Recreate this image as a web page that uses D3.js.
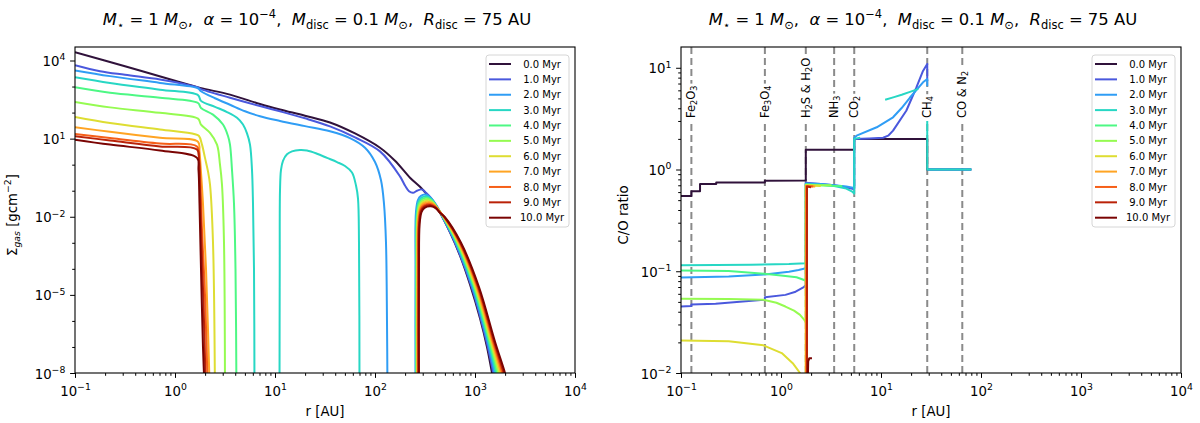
<!DOCTYPE html>
<html>
<head>
<meta charset="utf-8">
<script src="https://cdn.jsdelivr.net/npm/d3@7"></script>
<style>
  body { margin: 0; background: #fff; }
  svg { display: block; font-family: "DejaVu Sans", sans-serif; }
  text { white-space: pre; }
</style>
</head>
<body>
<svg id="chart"></svg>
<script>
// ---------- data ----------
const times = ["0.0", "1.0", "2.0", "3.0", "4.0", "5.0", "6.0", "7.0", "8.0", "9.0", "10.0"];

// surface density [r (AU), sigma (g/cm^2)]; null = no gas (gap)
const sigma_00 = [[0.1,2.1e4],[0.316,6.0e3],[1,1.66e3],[1.778,891],[3.548,490],[7.079,214],[11.22,132],[19.95,75.9],[35.48,41.7],[63.1,15.8],[112.2,4.47],[158.5,1.41],[223.9,0.316],[281.8,0.141],[331.1,0.0708],[380.2,0.0355],[446.7,0.0141],[562.3,2.5e-3],[707.9,3.2e-4],[891.3,2.5e-5],[1122,1.26e-6],[1318,1e-7],[1479,1e-8],[1585,2.5e-9]];
const sigma_01 = [[0.1,6607],[0.178,3890],[0.316,2818],[0.708,1862],[1.259,1230],[1.698,920],[1.82,800],[3.548,372],[7.079,178],[11.22,112],[19.95,60.3],[35.48,29.5],[63.1,11.2],[112.2,3.24],[177.8,0.355],[199.5,0.158],[218.8,0.0955],[239.9,0.0832],[263,0.1],[295.1,0.112],[323.6,0.083],[363.1,0.0525],[416.9,0.0251],[470.6,0.01],[631,1e-3],[924.7,2e-5],[1306,1.58e-7],[1524,1e-8],[1637,2.5e-9]];
const sigma_02 = [[0.1,4169],[0.224,2512],[0.708,1380],[1.698,860],[1.82,661],[2.512,355],[3.548,200],[5.012,112],[7.079,72.4],[11.22,47.9],[19.95,30.2],[35.48,19.1],[56.23,10.5],[79.43,4.47],[100,1.26],[114.8,0.251],[123,0.0316],[128.8,1e-3],[131.8,1e-6],[133.4,1e-9], null,
  [254.1,1e-9],[254.1,1e-4],[257,0.0158],[269.2,0.0447],[288.4,0.0631],[316.2,0.0708],[354.8,0.0562],[398.1,0.0316],[473.2,0.01],[641.2,1e-3],[941.9,2e-5],[1337,1.58e-7],[1570,1e-8],[1690,2.5e-9]];
const sigma_03 = [[0.1,2291],[0.224,1380],[0.708,759],[1.698,468],[1.82,282],[2.512,166],[3.311,105],[4.169,63.1],[4.786,34.7],[5.248,15.8],[5.623,5.89],[5.888,0.631],[6.026,0.0316],[6.166,1e-4],[6.237,1e-9], null,
  [11.09,1e-9],[11.15,1e-4],[11.22,0.1],[11.48,0.631],[12.02,1.41],[13.18,2.51],[14.79,3.24],[17.78,3.63],[20.89,3.47],[26.3,2.63],[33.11,1.82],[41.69,1.26],[50.12,0.891],[58.88,0.501],[64.57,0.158],[67.61,0.05],[69.18,1e-3],[69.98,1e-9], null,
  [257,1e-9],[257,1e-4],[260.6,0.0123],[272.3,0.0372],[291.7,0.0537],[323.6,0.0617],[363.1,0.049],[407.4,0.0275],[476.4,0.01],[651.6,1e-3],[961.6,2e-5],[1365,1.58e-7],[1618,1e-8],[1746,2.5e-9]];
const sigma_04 = [[0.1,933],[0.224,575],[0.708,372],[1.698,234],[1.82,151],[2.399,83.2],[3.02,34.7],[3.388,12.6],[3.548,5.89],[3.715,0.631],[3.89,0.0316],[4.027,1e-4],[4.121,1e-9], null,
  [260,1e-9],[260,1e-4],[263.6,0.0107],[275.4,0.0324],[295.1,0.0468],[327.3,0.0537],[367.3,0.0427],[412.1,0.024],[478.6,0.01],[660.7,1e-3],[979.5,2e-5],[1393,1.58e-7],[1667,1e-8],[1803,2.5e-9]];
const sigma_05 = [[0.1,257],[0.224,158.5],[0.708,97.7],[1.698,58.9],[1.82,34.7],[2.239,16.6],[2.63,5.89],[2.818,1.0],[2.951,0.17],[3.09,1e-3],[3.162,1e-9], null,
  [261.8,1e-9],[261.8,1e-4],[265.5,9.3e-3],[277.3,0.0282],[297.2,0.0407],[335,0.0468],[375.8,0.0372],[421.7,0.0214],[482,0.01],[671.4,1e-3],[997.7,2e-5],[1426,1.58e-7],[1718,1e-8],[1862,2.5e-9]];
const sigma_06 = [[0.1,67.6],[0.224,39.8],[0.708,22.4],[1.585,14.8],[1.738,12.6],[1.862,5.89],[1.995,1.82],[2.138,0.55],[2.239,0.17],[2.399,1e-3],[2.512,1e-9], null,
  [264.2,1e-9],[264.2,1e-4],[267.9,8.1e-3],[279.9,0.0245],[299.9,0.0355],[338.8,0.0407],[380.2,0.0331],[426.6,0.0191],[484.2,0.01],[682.3,1e-3],[1016,2e-5],[1455,1.58e-7],[1770,1e-8],[1923,2.5e-9]];
const sigma_07 = [[0.1,27.5],[0.224,18.2],[0.708,10.7],[1.698,7.59],[1.758,3.16],[1.82,0.501],[1.905,0.0316],[2.042,1e-4],[2.239,1e-9], null,
  [266.7,1e-9],[266.7,1e-4],[270.4,7.2e-3],[282.5,0.0219],[302.7,0.0316],[346.7,0.0363],[389,0.0295],[436.5,0.0174],[487.5,0.01],[691.8,1e-3],[1035,2e-5],[1486,1.58e-7],[1824,1e-8],[1986,2.5e-9]];
const sigma_08 = [[0.1,15.1],[0.224,10.5],[0.708,6.46],[1.66,5.01],[1.738,2.0],[1.799,0.158],[1.862,3.16e-3],[1.995,1e-5],[2.138,1e-9], null,
  [269.2,1e-9],[269.2,1e-4],[272.9,6.3e-3],[285.1,0.0191],[305.5,0.0275],[350.8,0.0316],[393.6,0.0263],[441.6,0.0158],[489.8,0.01],[703.1,1e-3],[1057,2e-5],[1517,1.58e-7],[1879,1e-8],[2051,2.5e-9]];
const sigma_09 = [[0.1,12.3],[0.224,8.51],[0.708,5.01],[1.66,3.8],[1.738,1.58],[1.778,0.1],[1.841,1e-3],[1.95,1e-6],[2.042,1e-9], null,
  [272.3,1e-9],[272.3,1e-4],[276.1,5.6e-3],[288.4,0.017],[309,0.0245],[354.8,0.0282],[398.1,0.0234],[446.7,0.0145],[493.2,0.01],[712.9,1e-3],[1076,2e-5],[1552,1.58e-7],[1936,1e-8],[2118,2.5e-9]];
const sigma_10 = [[0.1,9.12],[0.224,5.89],[0.708,3.47],[1.66,1.82],[1.718,0.631],[1.758,0.0316],[1.82,1e-4],[1.905,1e-7],[1.995,1e-9], null,
  [275.4,1e-9],[275.4,1e-4],[279.3,5.0e-3],[291.7,0.0151],[312.6,0.0219],[363.1,0.0251],[407.4,0.0209],[451.9,0.0135],[495.5,0.01],[724.4,1e-3],[1096,2e-5],[1585,1.58e-7],[1995,1e-8],[2188,2.5e-9]];

// C/O ratio [r (AU), C/O]
const co_00 = [[0.1,0.55],[0.127,0.55],[0.127,0.61],[0.155,0.61],[0.155,0.72],[0.225,0.72],[0.225,0.745],[0.69,0.745],[0.69,0.775],[1.77,0.78],[1.77,1.56],[5.4,1.56],[5.4,2.0],[29,2.0],[29,1.0],[80,1.0]];
const co_01 = [[0.1,0.0451],[0.127,0.0455],[0.127,0.047],[0.222,0.0479],[0.69,0.0525],[0.69,0.0555],[1.107,0.0586],[1.4,0.063],[1.69,0.0697],[1.77,0.0735],[1.77,0.74],[2.5,0.72],[3.4,0.70],[4.5,0.67],[5.4,0.64],[5.4,2.0],[7.6,2.02],[10.5,2.05],[11.8,2.15],[13.2,2.41],[17.9,3.78],[22.6,6.4],[26.3,9.3],[29,10.9],[29,7.4], null, [29,1.0],[80,1.0]];
const co_02 = [[0.1,0.0867],[0.3,0.089],[0.69,0.093],[1.2,0.099],[1.5,0.103],[1.77,0.107],[1.77,0.73],[2.5,0.72],[3.4,0.70],[4.5,0.68],[5.4,0.66],[5.4,2.05],[5.7,2.15],[9.06,2.6],[13.2,3.26],[16,4.0],[19.5,5.1],[26.3,7.2],[29,7.75],[29,6.6], null, [29,1.0],[80,1.0]];
const co_03 = [[0.1,0.1145],[0.5,0.116],[1.2,0.118],[1.77,0.12],[1.77,0.72],[2.5,0.71],[3.4,0.69],[4.5,0.65],[5.1,0.61],[5.4,0.58],[5.4,2.0],[6.2,2.05], null, [11,4.85],[13.5,5.15],[16.1,5.43],[19.5,5.8],[23.6,6.2], null, [29,3.0],[29,1.0],[80,1.0]];
const co_04 = [[0.1,0.1015],[0.3,0.1005],[0.72,0.0942],[1.0,0.091],[1.43,0.0873],[1.65,0.083],[1.77,0.0804],[1.77,0.70],[2.5,0.70],[3.5,0.69],[4.1,0.69]];
const co_05 = [[0.1,0.0536],[0.3,0.0533],[0.667,0.0524],[0.9,0.049],[1.107,0.045],[1.35,0.041],[1.55,0.0373],[1.7,0.0335],[1.77,0.0314],[1.77,0.71],[2.4,0.70],[3.2,0.70]];
const co_06 = [[0.1,0.0209],[0.3,0.0205],[0.667,0.0187],[1.017,0.0157],[1.31,0.0125],[1.55,0.01],[1.68,0.0075],[1.75,0.005],[1.76,0.004],[1.77,0.70],[2.5,0.69]];
const co_07 = [[1.78,0.004],[1.78,0.69],[2.2,0.68]];
const co_08 = [[1.8,0.004],[1.8,0.69],[2.1,0.68]];
const co_09 = [[1.82,0.004],[1.82,0.68],[2.0,0.67]];
const co_10 = [[1.83,0.004],[1.87,0.013],[1.92,0.014],[2.04,0.014]];

const sigmaSeries = [sigma_00, sigma_01, sigma_02, sigma_03, sigma_04, sigma_05, sigma_06, sigma_07, sigma_08, sigma_09, sigma_10];
const coSeries = [co_00, co_01, co_02, co_03, co_04, co_05, co_06, co_07, co_08, co_09, co_10];

// ice lines
const iceR = [0.127, 0.69, 1.77, 3.4, 5.4, 29, 65];
const iceNames = ["Fe_2O_3", "Fe_3O_4", "H_2S & H_2O", "NH_3", "CO_2", "CH_4", "CO & N_2"];

// ticks
const rMajor = [0.1, 1, 10, 100, 1000, 10000];
const sigmaMajor = [1e-8, 1e-5, 1e-2, 1e1, 1e4];
const sigmaMinor = [1e-7, 1e-6, 1e-4, 1e-3, 1e-1, 1, 1e2, 1e3];
const coMajor = [0.01, 0.1, 1, 10];

// ---------- drawing ----------
const W = 1200, H = 423;
const svg = d3.select("#chart").attr("width", W).attr("height", H);
svg.append("rect").attr("width", W).attr("height", H).attr("fill", "#fff");

const colors = times.map((t, i) => i === 0 ? "#30123b" : i === 10 ? "#7a0403" : d3.interpolateTurbo(i / 10));
const FS = 13.3;

// write mathtext-like pieces into a <text>
function rich(text, parts, size) {
  let cur = 0;
  parts.forEach(p => {
    const off = p.s === "sub" ? size * 0.25 : p.s === "sup" ? -size * 0.42 : 0;
    const ts = text.append("tspan")
      .attr("dy", (off - cur).toFixed(2))
      .attr("font-size", p.s ? size * 0.7 : size)
      .text(p.t);
    if (p.i) ts.attr("font-style", "italic");
    cur = off;
  });
  return text;
}
function pow10(v) {
  const e = Math.round(Math.log10(v));
  return [{t: "10"}, {t: (e < 0 ? "\u2212" : "") + Math.abs(e), s: "sup"}];
}
const isDecade = v => Math.abs(Math.log10(v) - Math.round(Math.log10(v))) < 1e-6;

const titleParts = [
  {t: "M", i: 1}, {t: "\u22c6", s: "sub"}, {t: " = 1 "}, {t: "M", i: 1}, {t: "\u2299", s: "sub"}, {t: ",  "},
  {t: "\u03b1", i: 1}, {t: " = 10"}, {t: "\u22124", s: "sup"}, {t: ",  "},
  {t: "M", i: 1}, {t: "disc", s: "sub"}, {t: " = 0.1 "}, {t: "M", i: 1}, {t: "\u2299", s: "sub"}, {t: ",  "},
  {t: "R", i: 1}, {t: "disc", s: "sub"}, {t: " = 75 AU"}
];

function panel(o) {
  const x = d3.scaleLog().domain([0.1, 1e4]).range([o.left, o.right]);
  const y = d3.scaleLog().domain(o.yDomain).range([o.bottom, o.top]);

  svg.append("clipPath").attr("id", "clip" + o.id).append("rect")
    .attr("x", o.left).attr("y", o.top)
    .attr("width", o.right - o.left).attr("height", o.bottom - o.top);

  // dashed ice lines (right panel)
  if (o.ice) {
    svg.append("g").selectAll("line").data(iceR).join("line")
      .attr("x1", d => x(d)).attr("x2", d => x(d))
      .attr("y1", o.top).attr("y2", o.bottom)
      .attr("stroke", "#8a8a8a").attr("stroke-width", 2)
      .attr("stroke-dasharray", "7,4");
  }

  const line = d3.line()
    .defined(d => d !== null)
    .x(d => x(d[0])).y(d => y(d[1]))
    .curve(o.smooth ? d3.curveCatmullRom.alpha(0.5) : d3.curveLinear);

  svg.append("g").attr("clip-path", `url(#clip${o.id})`)
    .selectAll("path").data(o.series).join("path")
    .attr("d", line)
    .attr("fill", "none")
    .attr("stroke", (d, i) => colors[i])
    .attr("stroke-width", 2)
    .attr("stroke-linejoin", "round");

  // ice line labels with white box
  if (o.ice) {
    iceNames.forEach((name, k) => {
      const g = svg.append("g").attr("transform", `translate(${x(iceR[k])},${o.top + 71}) rotate(-90)`);
      const parts = name.split(/(_\d)/).filter(s => s).map(s => s[0] === "_" ? {t: s.slice(1), s: "sub"} : {t: s});
      const t = g.append("text").attr("dominant-baseline", "central").attr("dy", -1);
      rich(t, parts, 11.5);
      const b = t.node().getBBox();
      g.insert("rect", "text").attr("x", b.x - 2).attr("y", b.y - 1)
        .attr("width", b.width + 4).attr("height", b.height + 2).attr("fill", "#fff");
    });
  }

  // spines
  svg.append("rect").attr("x", o.left).attr("y", o.top)
    .attr("width", o.right - o.left).attr("height", o.bottom - o.top)
    .attr("fill", "none").attr("stroke", "#000").attr("stroke-width", 1.1);

  // x axis
  const xMinor = x.ticks().filter(v => !isDecade(v));
  const gxm = svg.append("g").attr("transform", `translate(0,${o.bottom})`)
    .call(d3.axisBottom(x).tickValues(xMinor).tickSize(2.8).tickFormat(""));
  const gx = svg.append("g").attr("transform", `translate(0,${o.bottom})`)
    .call(d3.axisBottom(x).tickValues(rMajor).tickSize(4.9).tickFormat(""));
  [gxm, gx].forEach(g => {
    g.select(".domain").remove();
    g.selectAll(".tick text").remove();
    g.selectAll("line").attr("stroke", "#000").attr("stroke-width", 1);
  });
  gx.selectAll(".tick").each(function(d) {
    const t = d3.select(this).append("text").attr("y", 23).attr("text-anchor", "middle")
      .attr("font-family", '"DejaVu Sans", sans-serif').attr("fill", "#000");
    rich(t, pow10(d), FS);
  });

  // y axis
  const yMinor = o.yMinor || y.ticks().filter(v => !isDecade(v));
  const gym = svg.append("g").attr("transform", `translate(${o.left},0)`)
    .call(d3.axisLeft(y).tickValues(yMinor).tickSize(2.8).tickFormat(""));
  const gy = svg.append("g").attr("transform", `translate(${o.left},0)`)
    .call(d3.axisLeft(y).tickValues(o.yMajor).tickSize(4.9).tickFormat(""));
  [gym, gy].forEach(g => {
    g.select(".domain").remove();
    g.selectAll(".tick text").remove();
    g.selectAll("line").attr("stroke", "#000").attr("stroke-width", 1);
  });
  gy.selectAll(".tick").each(function(d) {
    const t = d3.select(this).append("text").attr("x", -9.7).attr("y", 5).attr("text-anchor", "end")
      .attr("font-family", '"DejaVu Sans", sans-serif').attr("fill", "#000");
    rich(t, pow10(d), FS);
  });

  // labels
  const cx = (o.left + o.right) / 2;
  rich(svg.append("text").attr("x", cx).attr("y", 416).attr("text-anchor", "middle"), [{t: "r [AU]"}], FS);
  rich(svg.append("text").attr("transform", `translate(${o.yLabelX},${(o.top + o.bottom) / 2 + 5}) rotate(-90)`)
    .attr("text-anchor", "middle"), o.yLabel, FS);
  rich(svg.append("text").attr("x", cx - 8).attr("y", 25).attr("text-anchor", "middle"), titleParts, 16.4);

  // legend
  const lg = svg.append("g");
  lg.append("rect").attr("x", o.right - 89).attr("y", o.top + 8)
    .attr("width", 83).attr("height", 172).attr("rx", 3)
    .attr("fill", "#fff").attr("fill-opacity", 0.8)
    .attr("stroke", "#d6d6d6").attr("stroke-width", 1);
  times.forEach((t, i) => {
    const yy = o.top + 17 + i * 15.37;
    lg.append("line").attr("x1", o.right - 86).attr("x2", o.right - 64)
      .attr("y1", yy).attr("y2", yy)
      .attr("stroke", colors[i]).attr("stroke-width", 2);
    lg.append("text").attr("x", o.right - 55).attr("y", yy + 3.6)
      .attr("font-size", 10).text(t.padStart(4, " ") + " Myr");
  });
}

panel({
  id: "L", left: 75, right: 575, top: 47, bottom: 373,
  yDomain: [1e-8, 3.3e4], yMajor: sigmaMajor, yMinor: sigmaMinor,
  series: sigmaSeries, smooth: true, yLabelX: 17,
  yLabel: [{t: "\u03a3"}, {t: "gas", s: "sub", i: 1}, {t: " [gcm"}, {t: "\u22122", s: "sup"}, {t: "]"}]
});
panel({
  id: "R", left: 681, right: 1181, top: 47, bottom: 373,
  yDomain: [1e-2, 16], yMajor: coMajor,
  series: coSeries, smooth: false, ice: true, yLabelX: 628,
  yLabel: [{t: "C/O ratio"}]
});
</script>
</body>
</html>
